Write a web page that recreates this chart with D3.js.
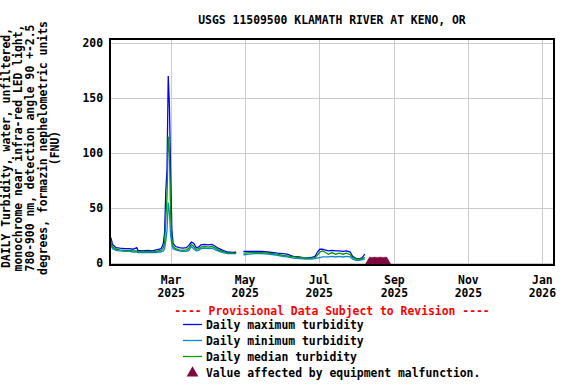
<!DOCTYPE html>
<html><head><meta charset="utf-8">
<script src="https://cdn.jsdelivr.net/npm/d3@7"></script>
<style>html,body{margin:0;padding:0;background:#fff;}svg{display:block;}</style>
</head><body>
<script>
const title = "USGS 11509500 KLAMATH RIVER AT KENO, OR";
const yLabelLines = ["DAILY Turbidity, water, unfiltered,", "monochrome near infra-red LED light,", "780-900 nm, detection angle 90 +-2.5", "degrees, formazin nephelometric units", "(FNU)"];
const yTicks = [0, 50, 100, 150, 200];
const xTickDates = ["2025-03-01","2025-05-01","2025-07-01","2025-09-01","2025-11-01","2026-01-01"];
const xTickMonths = ["Mar","May","Jul","Sep","Nov","Jan"];
const xTickYears = ["2025","2025","2025","2025","2025","2026"];

const dates = ["2025-01-10","2025-01-11","2025-01-12","2025-01-13","2025-01-15","2025-01-18","2025-01-22","2025-01-26","2025-01-29","2025-02-01","2025-02-02","2025-02-06","2025-02-10","2025-02-14","2025-02-17","2025-02-19","2025-02-21","2025-02-22","2025-02-23","2025-02-24","2025-02-25","2025-02-26","2025-02-27","2025-02-28","2025-03-01","2025-03-02","2025-03-03","2025-03-05","2025-03-08","2025-03-11","2025-03-14","2025-03-16","2025-03-18","2025-03-20","2025-03-22","2025-03-24","2025-03-26","2025-03-29","2025-04-01","2025-04-04","2025-04-07","2025-04-10","2025-04-13","2025-04-17","2025-04-21","2025-04-24","2025-04-27","2025-04-30","2025-05-05","2025-05-10","2025-05-15","2025-05-20","2025-05-25","2025-05-28","2025-06-01","2025-06-05","2025-06-10","2025-06-15","2025-06-20","2025-06-25","2025-06-28","2025-06-30","2025-07-02","2025-07-04","2025-07-06","2025-07-09","2025-07-12","2025-07-15","2025-07-18","2025-07-21","2025-07-24","2025-07-27","2025-07-29","2025-08-01","2025-08-04","2025-08-06","2025-08-08"];
const maxVals = [24,22,17,16,14,13.5,13,13,12.5,14,11.5,11,11.5,11,12,12.5,13,15,18,28,65,85,170,142,82,30,18,15,14,13.5,14,16,19,18,14,14.5,16.5,17,16.5,17,15,13,11.5,10,9.7,9.8,null,10.5,10.5,10.5,10.5,10,9.5,9,8.5,8,6,5.5,4.5,5,6,10,12.5,12.5,12,11,11.5,11,11,10.5,11,10,6,4,4,5,8];
const medVals = [20,18,15,14,12.5,12,11.5,11.5,11,11,10.5,10,10.5,10,10.5,11,11.5,12.5,14,18,40,60,115,100,45,22,15,13,12,11.5,12,13.5,17,15,12.5,13,14.5,15,14.5,15,13.5,11.5,10.5,9.3,9,9,null,9,9.5,9.5,9.5,9,8.5,8,7,6.5,5.5,5,4.5,4.5,5,7,10,11,10,8,9.5,8,9,8,9,7.5,5,3.5,3.5,4,5];
const minVals = [17,16,13,12.5,11.5,11,10.5,10.5,10,10,9.5,9.5,9.5,9.5,9.5,10,10,10.5,11,13,20,30,55,45,25,17,13,12,11,10.5,10.5,11.5,15,13,11,11.5,13,13.5,13,13.5,12,10.5,9.5,8.5,8.5,8.5,null,7.5,8,8.5,8.5,8,7.5,7,6,5.5,4.5,4,3.5,3.5,4,4.5,5,5.5,5.5,5.5,6,5.5,6,5.5,6,5.5,3.5,2.5,2.5,3,3.5];
const malfunctionDates = ["2025-08-12","2025-08-13","2025-08-14","2025-08-15","2025-08-16","2025-08-17","2025-08-18","2025-08-19","2025-08-20","2025-08-21","2025-08-22","2025-08-23","2025-08-24","2025-08-25","2025-08-26"];
const malfunctionVals = malfunctionDates.map(() => 0);

const seriesNames = ["Daily maximum turbidity","Daily minimum turbidity","Daily median turbidity"];
const seriesColors = ["#0000ff","#0a84d6","#009a00"];
const malColor = "#7f0a3f";

const W = 576, H = 384;
const L = 110, R = 554, T = 39, B = 265;
const parse = d3.timeParse("%Y-%m-%d");
const font = "'DejaVu Sans Mono', 'Liberation Mono', monospace";

const svg = d3.select("body").append("svg").attr("width", W).attr("height", H)
  .style("font-family", font).style("font-weight", "bold").style("font-size", "11.4px");

const x = d3.scaleTime().domain([parse("2025-01-10"), parse("2026-01-11")]).range([L, R]);
const y = d3.scaleLinear().domain([-1.8, 203.6]).range([B, T]);

// grid
svg.append("g").selectAll("line").data(yTicks).join("line")
  .attr("x1", L).attr("x2", R).attr("y1", d => Math.round(y(d)) + 0.5).attr("y2", d => Math.round(y(d)) + 0.5)
  .attr("stroke", "#cccccc").attr("stroke-width", 1);
svg.append("g").selectAll("line").data(xTickDates).join("line")
  .attr("x1", d => Math.round(x(parse(d))) + 0.5).attr("x2", d => Math.round(x(parse(d))) + 0.5)
  .attr("y1", T).attr("y2", B).attr("stroke", "#cccccc").attr("stroke-width", 1);

// clip
svg.append("clipPath").attr("id", "clip").append("rect").attr("x", L).attr("y", T).attr("width", R - L).attr("height", B - T);

const rows = dates.map((d, i) => ({ date: parse(d), v: [maxVals[i], minVals[i], medVals[i]] }));
const plot = svg.append("g").attr("clip-path", "url(#clip)");
[0, 1, 2].forEach(k => {
  const line = d3.line().defined(r => r.v[k] != null).x(r => x(r.date)).y(r => y(r.v[k]));
  plot.append("path").datum(rows).attr("d", line).attr("fill", "none")
    .attr("stroke", seriesColors[k]).attr("stroke-width", 1.3);
});

// malfunction markers
const tri = d3.symbol().type(d3.symbolTriangle).size(40);
plot.selectAll("path.mal").data(malfunctionDates).join("path").attr("class", "mal")
  .attr("d", tri).attr("fill", malColor)
  .attr("transform", (d, i) => `translate(${x(parse(d))},${y(malfunctionVals[i]) - 1})`);

// frame
svg.append("rect").attr("x", L).attr("y", T).attr("width", R - L).attr("height", B - T)
  .attr("fill", "none").attr("stroke", "#000").attr("stroke-width", 2);

// y tick labels
svg.append("g").selectAll("text").data(yTicks).join("text")
  .attr("x", 103).attr("y", d => y(d) + 4).attr("text-anchor", "end").text(d => d);

// x tick labels
svg.append("g").selectAll("text").data(xTickDates).join("text")
  .attr("x", d => x(parse(d)) + 0.5).attr("y", 283.5).attr("text-anchor", "middle").text((d, i) => xTickMonths[i]);
svg.append("g").selectAll("text").data(xTickDates).join("text")
  .attr("x", d => x(parse(d)) + 0.5).attr("y", 296.5).attr("text-anchor", "middle").text((d, i) => xTickYears[i]);

// title
svg.append("text").attr("x", (L + R) / 2).attr("y", 24).attr("text-anchor", "middle").text(title);

// y label
const ylab = svg.append("text").attr("transform", "translate(0,148) rotate(-90)").attr("text-anchor", "middle");
yLabelLines.forEach((t, i) => {
  ylab.append("tspan").attr("x", 0).attr("y", 10 + i * 12.2).text(t);
});

// legend
svg.append("text").attr("x", (L + R) / 2).attr("y", 315).attr("text-anchor", "middle").attr("fill", "#ff0000")
  .text("---- Provisional Data Subject to Revision ----");
const legY = [329, 345, 361];
seriesNames.forEach((n, i) => {
  svg.append("line").attr("x1", 183).attr("x2", 202).attr("y1", legY[i] - 4.5).attr("y2", legY[i] - 4.5)
    .attr("stroke", seriesColors[i]).attr("stroke-width", 1.3);
  svg.append("text").attr("x", 206).attr("y", legY[i]).text(n);
});
svg.append("path").attr("d", d3.symbol().type(d3.symbolTriangle).size(60))
  .attr("transform", "translate(192.5,373)").attr("fill", malColor);
svg.append("text").attr("x", 206).attr("y", 377).text("Value affected by equipment malfunction.");
</script>
</body></html>
